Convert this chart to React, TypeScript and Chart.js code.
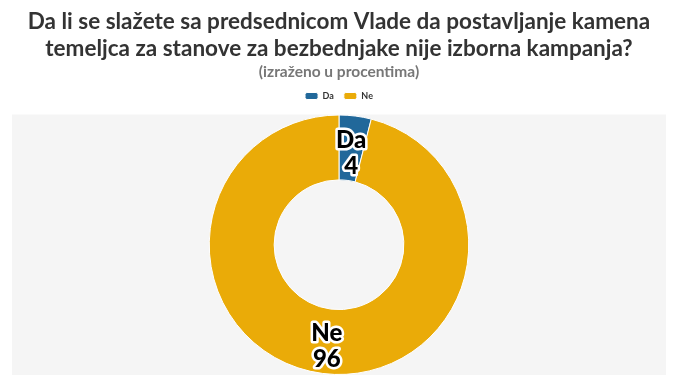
import React, { useEffect, useRef } from "react";
import { Chart, registerables } from "chart.js";

Chart.register(...registerables);

const categories = ["Da", "Ne"];
const values = [4, 96];
const colors = ["#21689a", "#eaab08"];
const titleLines = [
  "Da li se slažete sa predsednicom Vlade da postavljanje kamena",
  "temeljca za stanove za bezbednjake nije izborna kampanja?",
];
const subtitleText = "(izraženo u procentima)";

const bgPlugin = {
  id: "areaBg",
  beforeUpdate(chart: any) {
    const lg = chart.legend;
    if (lg && !lg._extraGap) {
      const orig = lg.fit;
      lg.fit = function () {
        orig.call(this);
        this.height += 4;
      };
      lg._extraGap = true;
    }
  },
  beforeDraw(chart: any) {
    const { ctx, chartArea } = chart;
    ctx.save();
    ctx.fillStyle = "#f5f5f5";
    ctx.fillRect(chartArea.left, chartArea.top, chartArea.right - chartArea.left, chartArea.bottom - chartArea.top);
    ctx.restore();
  },
};

const labelPlugin = {
  id: "sliceLabels",
  afterDatasetsDraw(chart: any) {
    const { ctx } = chart;
    const meta = chart.getDatasetMeta(0);
    ctx.save();
    ctx.font = "900 24px Lato";
    ctx.textAlign = "center";
    ctx.textBaseline = "middle";
    ctx.lineJoin = "round";
    meta.data.forEach((arc: any, i: number) => {
      const p = arc.tooltipPosition();
      const lines = [categories[i], String(values[i])];
      const lh = 26;
      lines.forEach((t, j) => {
        const y = p.y + 5 + (j - (lines.length - 1) / 2) * lh;
        ctx.strokeStyle = "#ffffff";
        ctx.lineWidth = 5;
        ctx.strokeText(t, p.x, y);
        ctx.fillStyle = "#000000";
        ctx.fillText(t, p.x, y);
      });
    });
    ctx.restore();
  },
};

export default function App() {
  const ref = useRef<HTMLCanvasElement>(null);
  useEffect(() => {
    if (!ref.current) return;
    const chart = new Chart(ref.current, {
      type: "doughnut",
      data: {
        labels: categories,
        datasets: [
          {
            data: values,
            backgroundColor: colors,
            borderColor: "#ffffff",
            borderWidth: 1,
          },
        ],
      },
      options: {
        animation: false,
        responsive: true,
        maintainAspectRatio: false,
        cutout: "50%",
        layout: { padding: { left: 4, right: 4, top: 0, bottom: 0 } },
        plugins: {
          title: {
            display: true,
            text: titleLines,
            color: "#333333",
            font: { family: "Lato", size: 22.5, weight: "bold", lineHeight: 1.22 },
            padding: { top: 0, bottom: 0 },
          },
          subtitle: {
            display: true,
            text: subtitleText,
            color: "#777777",
            font: { family: "Lato", size: 15.5, weight: "bold", lineHeight: 1.2 },
            padding: { top: 0, bottom: 0 },
          },
          legend: {
            display: true,
            position: "top",
            labels: {
              boxWidth: 13,
              boxHeight: 7,
              useBorderRadius: true,
              borderRadius: 2,
              color: "#333333",
              font: { family: "Lato", size: 9, weight: "bold" },
              padding: 10,
            },
          },
          tooltip: { enabled: false },
        },
      },
      plugins: [bgPlugin, labelPlugin],
    });
    return () => chart.destroy();
  }, []);
  return (
    <div style={{ width: 662, height: 367, position: "relative" }}>
      <canvas ref={ref} />
    </div>
  );
}
